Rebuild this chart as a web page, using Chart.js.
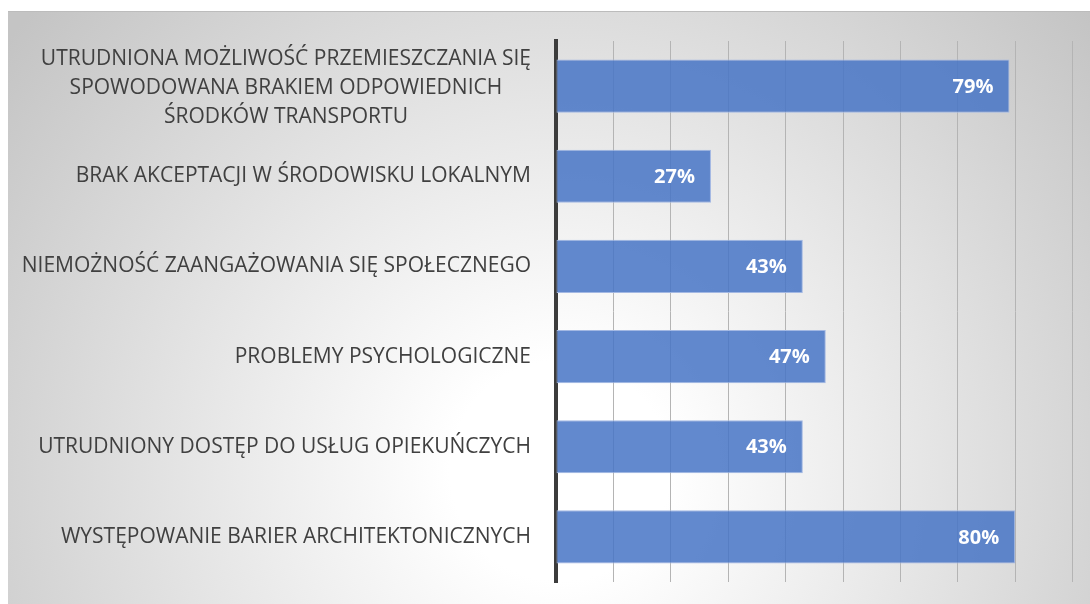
<!DOCTYPE html>
<html>
<head>
<meta charset="utf-8">
<script src="https://cdn.jsdelivr.net/npm/chart.js@4/dist/chart.umd.min.js"></script>
<style>
    html, body { margin: 0; padding: 0; width: 1090px; height: 604px; overflow: hidden; background: #ffffff; }
    .frame {
        position: absolute; left: 8px; top: 11px; width: 1200px; height: 700px;
        border-top: 1px solid #bcbcbc;
        background: radial-gradient(circle at 552px 459px, #ffffff 0px, #ffffff 110px, #c4c4c4 700px);
    }
    .chart-box { position: absolute; left: 0; top: 0; width: 1150px; height: 604px; }
</style>
</head>
<body>
<div class="frame"></div>
<div class="chart-box"><canvas id="barChart"></canvas></div>
<script>
const categories = [
    ['UTRUDNIONA MOŻLIWOŚĆ PRZEMIESZCZANIA SIĘ', 'SPOWODOWANA BRAKIEM ODPOWIEDNICH', 'ŚRODKÓW TRANSPORTU'],
    ['BRAK AKCEPTACJI W ŚRODOWISKU LOKALNYM'],
    ['NIEMOŻNOŚĆ ZAANGAŻOWANIA SIĘ SPOŁECZNEGO'],
    ['PROBLEMY PSYCHOLOGICZNE'],
    ['UTRUDNIONY DOSTĘP DO USŁUG OPIEKUŃCZYCH'],
    ['WYSTĘPOWANIE BARIER ARCHITEKTONICZNYCH']
];
const percentValues = [79, 27, 43, 47, 43, 80];
const axisMin = 0;
const axisMax = 100;
const axisStep = 10;

// category labels: single lines right aligned, wrapped label centred on itself
const categoryLabels = {
    id: 'categoryLabels',
    afterDraw(chart) {
        const ctx = chart.ctx;
        const yScale = chart.scales.y;
        const right = chart.chartArea.left - 25;
        ctx.save();
        ctx.font = '21px "Open Sans"';
        ctx.fillStyle = '#404040';
        ctx.textBaseline = 'middle';
        categories.forEach((lines, i) => {
            const y = yScale.getPixelForTick(i);
            const lineHeight = 29;
            if (lines.length === 1) {
                ctx.textAlign = 'right';
                ctx.fillText(lines[0], right, y);
            } else {
                const widest = Math.max(...lines.map(l => ctx.measureText(l).width));
                const cx = right - widest / 2;
                ctx.textAlign = 'center';
                lines.forEach((line, j) => {
                    ctx.fillText(line, cx, y + 2 + (j - (lines.length - 1) / 2) * lineHeight);
                });
            }
        });
        ctx.restore();
    }
};

const valueLabels = {
    id: 'valueLabels',
    afterDatasetsDraw(chart) {
        const ctx = chart.ctx;
        const meta = chart.getDatasetMeta(0);
        ctx.save();
        ctx.font = 'bold 20px "Open Sans"';
        ctx.fillStyle = '#ffffff';
        ctx.textAlign = 'right';
        ctx.textBaseline = 'middle';
        meta.data.forEach((bar, i) => {
            ctx.fillText(percentValues[i] + '%', bar.x - 16, bar.y + 1);
        });
        ctx.restore();
    }
};

const ctx = document.getElementById('barChart').getContext('2d');
new Chart(ctx, {
    type: 'bar',
    data: {
        labels: categories.map(l => l.join(' ')),
        datasets: [{
            data: percentValues,
            backgroundColor: 'rgba(70, 116, 197, 0.85)',
            borderColor: '#a3b8e3',
            borderWidth: 1,
            borderSkipped: false,
            categoryPercentage: 1,
            barPercentage: 0.59
        }]
    },
    options: {
        indexAxis: 'y',
        responsive: true,
        maintainAspectRatio: false,
        animation: false,
        layout: { padding: { left: 556, right: 20, top: 41, bottom: 22 } },
        plugins: {
            legend: { display: false },
            tooltip: { enabled: false }
        },
        scales: {
            x: {
                min: axisMin,
                max: axisMax,
                ticks: { display: false, stepSize: axisStep },
                grid: { color: '#b4b4b4', lineWidth: 1, drawTicks: false },
                border: { display: false }
            },
            y: {
                ticks: { display: false },
                grid: { display: false, drawTicks: false },
                border: { display: true, color: '#3c3c3c', width: 4 },
                afterFit(scale) { scale.width = 0; }
            }
        }
    },
    plugins: [categoryLabels, valueLabels]
});
</script>
</body>
</html>
